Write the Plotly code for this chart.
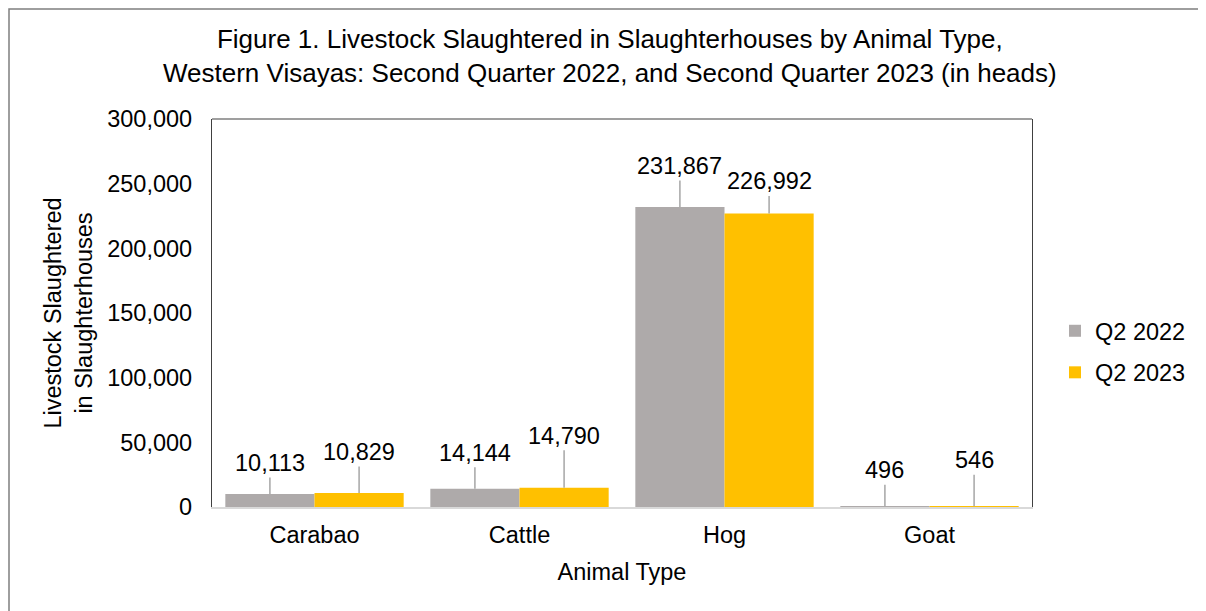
import plotly.graph_objects as go
import numpy as np

categories = ["Carabao", "Cattle", "Hog", "Goat"]
series_names = ["Q2 2022", "Q2 2023"]
q2_2022 = [10113, 14144, 231867, 496]
q2_2023 = [10829, 14790, 226992, 546]
y_ticks = [0, 50000, 100000, 150000, 200000, 250000, 300000]
title_lines = ["Figure 1. Livestock Slaughtered in Slaughterhouses by Animal Type,",
               "Western Visayas: Second Quarter 2022, and Second Quarter 2023 (in heads)"]

# label offsets (pixels above bar top) - styling
off_2022 = [31, 36, 41, 36]
off_2023 = [41, 52, 32, 46]

colors = ["#AEAAAA", "#FFC000"]
FONT = "Liberation Sans, Arial, sans-serif"
FS = 23.5
TFS = 26
bargap = 0.13
w = (1 - bargap) / 2

# plot-area pixel geometry (page has an 8px body margin)
PL, PT, PW, PH = 212, 119, 820, 388
PB = PT + PH
OFF = 8


def px_x(p):
    return (p - PL) / PW


def px_y(p):
    return (PB - p) / PH


x = np.arange(len(categories))
fig = go.Figure()
for name, vals, col in zip(series_names, [q2_2022, q2_2023], colors):
    fig.add_trace(go.Bar(x=x, y=vals, name=name, marker=dict(color=col, line=dict(width=0)),
                         legendgroup=name))

annotations = []
for k, (vals, offs) in enumerate([(q2_2022, off_2022), (q2_2023, off_2023)]):
    shift = -w / 2 if k == 0 else w / 2
    for i, (v, o) in enumerate(zip(vals, offs)):
        annotations.append(dict(
            x=i + shift, y=v, xref="x", yref="y", text=f"{v:,}",
            showarrow=True, arrowhead=0, arrowwidth=1.5, arrowcolor="#A6A6A6",
            ax=0, ay=-o, standoff=0, font=dict(family=FONT, size=FS, color="#000000"),
        ))

annotations.append(dict(
    x=px_x(610), y=px_y(56), xref="paper", yref="paper", text="<br>".join(title_lines),
    showarrow=False, xanchor="center", yanchor="middle", align="center",
    font=dict(family=FONT, size=TFS, color="#000000"),
))

shapes = [
    # outer chart frame
    dict(type="rect", xref="paper", yref="paper", x0=px_x(9), x1=px_x(1225),
         y0=px_y(625), y1=px_y(9), line=dict(color="#7F7F7F", width=1.5),
         fillcolor="rgba(0,0,0,0)", layer="below"),
    # plot area top border
    dict(type="line", xref="paper", yref="paper", x0=0, x1=1, y0=1, y1=1,
         line=dict(color="#404040", width=1.2)),
]

fig.update_layout(
    width=1206, height=611,
    margin=dict(l=PL - OFF, r=1206 - PL - PW + OFF, t=PT - OFF, b=611 - PB + OFF),
    paper_bgcolor="white", plot_bgcolor="white",
    font=dict(family=FONT, size=FS, color="#000000"),
    barmode="group", bargap=bargap, bargroupgap=0,
    xaxis=dict(range=[-0.5, 3.5], tickvals=list(x), ticktext=categories,
               showline=True, linecolor="#D9D9D9", linewidth=2, showgrid=False,
               ticks="", ticklabelstandoff=6, zeroline=False,
               title=dict(text="Animal Type", standoff=16, font=dict(size=FS))),
    yaxis=dict(range=[0, 300000], tickvals=y_ticks, ticktext=[f"{t:,}" for t in y_ticks],
               showline=True, mirror=True, linecolor="#404040", linewidth=1.2,
               showgrid=False, zeroline=False, ticks="", ticklabelstandoff=14,
               title=dict(text="Livestock Slaughtered<br>in Slaughterhouses", standoff=8,
                          font=dict(size=FS))),
    legend=dict(x=px_x(1055), xanchor="left", y=px_y(309), yanchor="top",
                traceorder="grouped", tracegroupgap=8,
                font=dict(family=FONT, size=FS), bgcolor="rgba(0,0,0,0)"),
    annotations=annotations,
    shapes=shapes,
)

fig.write_html("out.html")
